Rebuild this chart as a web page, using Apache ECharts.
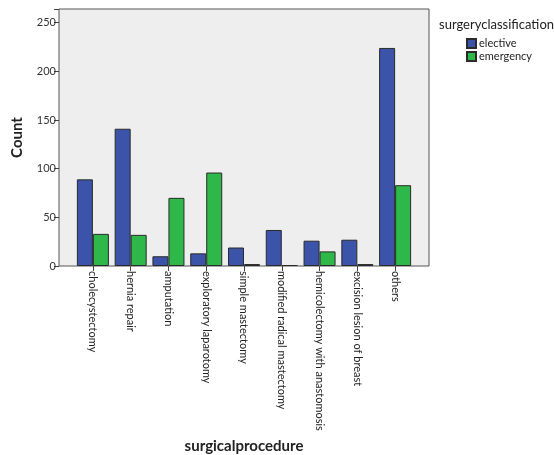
<!DOCTYPE html>
<html>
<head>
<meta charset="utf-8">
<script src="https://cdn.jsdelivr.net/npm/echarts@6/dist/echarts.min.js"></script>
<style>
  html, body { margin: 0; padding: 0; background: #fff; }
  #chart { width: 554px; height: 455px; }
</style>
</head>
<body>
<div id="chart"></div>
<script>
var procedures = [
  "cholecystectomy", "hernia repair", "amputation", "exploratory laparotomy",
  "simple mastectomy", "modified radical mastectomy", "hemicolectomy with anastomosis",
  "excision lesion of breast", "others"
];
var elective = [89, 141, 10, 13, 19, 37, 26, 27, 224];
var emergency = [33, 32, 70, 96, 2, 1, 15, 2, 83];
var yTicks = [0, 50, 100, 150, 200, 250];

var chart = echarts.init(document.getElementById("chart"));
chart.setOption({
  animation: false,
  textStyle: { fontFamily: "Lato, 'DejaVu Sans', sans-serif" },
  grid: [
    // frame of the plot area
    { left: 59, top: 9, width: 370, height: 257, show: true, outerBoundsMode: "none",
      backgroundColor: "#eeeeee", borderColor: "#555", borderWidth: 1 },
    // data area, padded inside the frame
    { left: 74, top: 9, width: 340, height: 257, outerBoundsMode: "none" }
  ],
  title: {
    text: "surgeryclassification",
    left: 434, top: 13,
    textStyle: { fontSize: 13, fontWeight: "normal", color: "#222" }
  },
  legend: {
    orient: "vertical",
    left: 461, top: 33,
    itemWidth: 9, itemHeight: 9, itemGap: 2,
    icon: "rect",
    textStyle: { fontSize: 11, color: "#222", padding: [0, 0, 0, -2] },
    data: ["elective", "emergency"]
  },
  xAxis: [
    { gridIndex: 0, type: "value", show: false, min: 0, max: 1 },
    {
      gridIndex: 1, type: "category", data: procedures,
      name: "surgicalprocedure", nameLocation: "middle", nameGap: 168,
      nameTextStyle: { fontSize: 15, fontWeight: "bold", color: "#222" },
      axisLine: { show: false },
      axisTick: { show: true, alignWithLabel: true, length: 5, lineStyle: { color: "#444" } },
      axisLabel: { rotate: -90, interval: 0, fontSize: 11, color: "#222", margin: 5 }
    }
  ],
  yAxis: [
    { gridIndex: 0, type: "value", show: false, min: 0, max: 1 },
    {
      gridIndex: 1, type: "value", min: 0, max: 264, interval: 50, offset: 15,
      name: "Count", nameLocation: "middle", nameGap: 34, nameRotate: 90,
      nameTextStyle: { fontSize: 15, fontWeight: "bold", color: "#222" },
      axisLine: { show: false },
      axisTick: { show: true, length: 5, lineStyle: { color: "#444" } },
      axisLabel: {
        fontSize: 11, color: "#333", margin: 3,
        formatter: function (v) { return yTicks.indexOf(v) >= 0 ? v : ""; }
      },
      splitLine: { show: false }
    }
  ],
  series: [
    {
      name: "elective", type: "bar", xAxisIndex: 1, yAxisIndex: 1,
      data: elective, barWidth: 16, barGap: "0%",
      itemStyle: { color: "#3b53a8", borderColor: "#2a2a2a", borderWidth: 1 }
    },
    {
      name: "emergency", type: "bar", xAxisIndex: 1, yAxisIndex: 1,
      data: emergency, barWidth: 16, barGap: "0%",
      itemStyle: { color: "#2eb84a", borderColor: "#2a2a2a", borderWidth: 1 }
    }
  ]
});
</script>
</body>
</html>
